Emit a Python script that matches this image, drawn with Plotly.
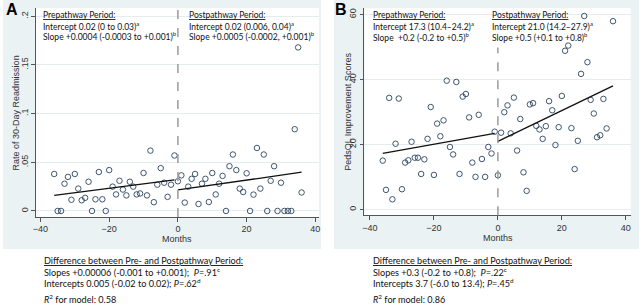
import numpy as np
import plotly.graph_objects as go

# ---------------- data ----------------
a_pre_months = [-36, -35, -34, -33, -32, -31, -30, -29, -28, -27, -26, -25, -24, -23, -22, -21, -20, -19,
                -18, -17, -16, -15, -14, -13, -12, -11, -10, -9, -8, -7, -6, -5, -4, -3, -2, -1]
a_pre_rate = [0.038, 0, 0, 0.028, 0.035, 0.0115, 0.038, 0.023, 0.011, 0.0135, 0.030, 0, 0.012, 0.040,
              0.012, 0, 0.042, 0.025, 0.017, 0.031, 0.022, 0.016, 0.030, 0.025, 0.017, 0.018, 0.039,
              0.016, 0.062, 0.009, 0.027, 0.044, 0.029, 0.0145, 0.027, 0.057]
a_post_months = [0, 1, 2, 3, 4, 5, 6, 7, 8, 9, 10, 11, 12, 13, 14, 15, 16, 17, 18, 19, 20, 21, 22, 23,
                 24, 25, 26, 27, 28, 29, 30, 31, 32, 33, 34, 35, 36]
a_post_rate = [0.0305, 0.0366, 0.0086, 0.025, 0.033, 0.038, 0.0072, 0.028, 0.033, 0.0092, 0.039, 0.017,
               0.028, 0.036, 0, 0.046, 0.058, 0.042, 0.023, 0.0195, 0.0387, 0, 0.0168, 0.0647, 0.023,
               0.058, 0, 0.031, 0.046, 0, 0.029, 0, 0, 0, 0.084, 0.168, 0.019]

b_pre_months = a_pre_months
b_pre_score = [15.1, 6.1, 34.4, 3.2, 20.3, 34.2, 6.3, 14.5, 15.2, 20.9, 16.0, 16.0, 11.0, 15.5, 21.8,
               31.6, 10.7, 26.5, 22.6, 27.5, 39.7, 19.3, 17.0, 39.3, 11.0, 34.8, 35.6, 28.4, 14.5, 10.1,
               29.2, 15.6, 10.1, 19.3, 17.3, 24.0]
b_post_months = [0, 1, 2, 3, 4, 5, 6, 7, 8, 9, 10, 11, 12, 13, 14, 15, 16, 17, 18, 19, 20, 21, 22, 23,
                 24, 25, 26, 27, 28, 29, 30, 31, 32, 33, 34, 36]
b_post_score = [10.6, 23.7, 30.0, 32.1, 23.5, 34.5, 18.2, 27.9, 11.5, 5.8, 32.4, 32.8, 25.8, 24.7, 21.8,
                25.7, 33.4, 30.6, 19.9, 25.4, 35.0, 48.9, 50.5, 25.1, 12.5, 21.2, 41.8, 59.6, 45.4, 33.8,
                29.6, 22.3, 22.9, 34.1, 25.0, 58.0]

pathway_start = 0
x_ticks = [-40, -20, 0, 20, 40]
a_y_ticks = [0, 0.05, 0.1, 0.15, 0.2]
a_y_ticktext = ["0", ".05", ".1", ".15", ".2"]
b_y_ticks = [0, 20, 40, 60]
b_y_ticktext = ["0", "20", "40", "60"]

x_title = "Months"
a_y_title = "Rate of 30-Day Readmission"
b_y_title = "PedsQL Improvement Scores"

a_pre_text = ["Prepathway Period:", "Intercept 0.02 (0 to 0.03)<sup>a</sup>",
              "Slope +0.0004 (-0.0003 to +0.001)<sup>b</sup>"]
a_post_text = ["Postpathway Period:", "Intercept 0.02 (0.006, 0.04)<sup>a</sup>",
               "Slope +0.0005 (-0.0002, +0.001)<sup>b</sup>"]
b_pre_text = ["Prepathway Period:", "Intercept 17.3 (10.4–24.2)<sup>a</sup>",
              "Slope&nbsp; +0.2 (-0.2 to +0.5)<sup>b</sup>"]
b_post_text = ["Postpathway Period:", "Intercept 21.0 (14.2–27.9)<sup>a</sup>",
               "Slope +0.5 (+0.1 to +0.8)<sup>b</sup>"]
a_diff_text = ["Difference between Pre- and Postpathway Period:",
               "Slopes +0.00006 (-0.001 to +0.001);&nbsp; <i>P</i>=.91<sup>c</sup>",
               "Intercepts 0.005 (-0.02 to 0.02); <i>P</i>=.62<sup>d</sup>",
               "<i>R</i><sup>2</sup> for model: 0.58"]
b_diff_text = ["Difference between Pre- and Postpathway Period:",
               "Slopes +0.3 (-0.2 to +0.8);&nbsp; <i>P</i>=.22<sup>c</sup>",
               "Intercepts 3.7 (-6.0 to 13.4); <i>P</i>=.45<sup>d</sup>",
               "<i>R</i><sup>2</sup> for model: 0.86"]

# ---------------- helpers ----------------
W, H = 640, 304
def px(x):
    return x / W
def py(y):
    return 1 - y / H

MARK = "#2a4560"
TXT_FONT = "Lato"
AX_FONT = "Liberation Sans"

def fit_line(xs, ys):
    k, b = np.polyfit(xs, ys, 1)
    xx = np.array([min(xs), max(xs)], dtype=float)
    return xx, k * xx + b

fig = go.Figure()

for xs, ys, ax, ay in [(a_pre_months, a_pre_rate, "x", "y"), (a_post_months, a_post_rate, "x", "y"),
                       (b_pre_months, b_pre_score, "x2", "y2"), (b_post_months, b_post_score, "x2", "y2")]:
    fig.add_trace(go.Scatter(x=xs, y=ys, mode="markers", xaxis=ax, yaxis=ay, showlegend=False,
                             marker=dict(symbol="circle-open", size=5.5, color=MARK, line=dict(width=0.9))))
    fx, fy = fit_line(xs, ys)
    fig.add_trace(go.Scatter(x=fx, y=fy, mode="lines", xaxis=ax, yaxis=ay, showlegend=False,
                             line=dict(color="#111111", width=1.3)))

BG = "#EAF2F3"
shapes = [
    dict(type="rect", xref="paper", yref="paper", x0=px(0), x1=px(320), y0=py(249), y1=py(0),
         fillcolor=BG, line=dict(width=0), layer="below"),
    dict(type="rect", xref="paper", yref="paper", x0=px(333), x1=px(640), y0=py(249), y1=py(0),
         fillcolor=BG, line=dict(width=0), layer="below"),
    dict(type="rect", xref="paper", yref="paper", x0=px(33), x1=px(318), y0=py(217), y1=py(8),
         fillcolor="white", line=dict(width=0), layer="below"),
    dict(type="rect", xref="paper", yref="paper", x0=px(363.7), x1=px(631.7), y0=py(215.3), y1=py(8),
         fillcolor="white", line=dict(width=0), layer="below"),
    dict(type="line", xref="x", yref="y domain", x0=pathway_start, x1=pathway_start, y0=0, y1=1,
         line=dict(color="#9a9a9a", width=1.5, dash="dash")),
    dict(type="line", xref="x2", yref="y2 domain", x0=pathway_start, x1=pathway_start, y0=0, y1=0.81,
         line=dict(color="#9a9a9a", width=1.5, dash="dash")),
]

axis_common = dict(showline=True, linecolor="#555555", linewidth=1, ticks="outside", ticklen=3.5,
                   tickcolor="#555555", tickfont=dict(family=AX_FONT, size=9, color="#333333"),
                   zeroline=False, mirror=False)
title_font = dict(family=AX_FONT, size=9, color="#333333")

fig.update_layout(
    width=W, height=H, margin=dict(l=0, r=0, t=0, b=0),
    paper_bgcolor="white", plot_bgcolor="rgba(0,0,0,0)",
    shapes=shapes,
    xaxis=dict(domain=[px(33), px(318)], range=[-41.36, 41.07], tickvals=x_ticks, showgrid=False,
               anchor="y", **axis_common),
    yaxis=dict(domain=[py(217), py(8)], range=[-0.0062, 0.2085], tickvals=a_y_ticks, ticktext=a_y_ticktext,
               tickangle=-90, showgrid=True, gridcolor="#E4ECEE", gridwidth=1, anchor="x", **axis_common),
    xaxis2=dict(domain=[px(363.7), px(631.7)], range=[-41.74, 41.55], tickvals=x_ticks, showgrid=False,
                anchor="y2", **axis_common),
    yaxis2=dict(domain=[py(215.3), py(8)], range=[-1.72, 62.06], tickvals=b_y_ticks, ticktext=b_y_ticktext,
                tickangle=-90, showgrid=True, gridcolor="#E4ECEE", gridwidth=1, anchor="x2", **axis_common),
)

annotations = []
def add_lines(lines, x, ys, size, underline_first=True):
    for i, (t, y) in enumerate(zip(lines, ys)):
        if i == 0 and underline_first:
            t = '<span style="text-decoration:underline">' + t + '</span>'
        annotations.append(dict(text=t, xref="paper", yref="paper", x=px(x), y=py(y), xanchor="left",
                                yanchor="middle", showarrow=False,
                                font=dict(family=TXT_FONT, size=size, color="#111111")))

add_lines(a_pre_text, 38, [15, 25.7, 36], 8.5)
add_lines(a_post_text, 185.5, [15, 25.7, 36], 8.5)
add_lines(b_pre_text, 370.5, [15, 25.7, 37], 8.5)
add_lines(b_post_text, 490.5, [15, 25.7, 37], 8.5)
add_lines(a_diff_text, 39, [260, 271.5, 282.5, 298.5], 9.1)
add_lines(b_diff_text, 370, [260, 271.5, 282.5, 298.5], 9.1)

# axis titles
for t, x, y, ang in [(x_title, 175.5, 238.5, 0), (x_title, 497.7, 237.5, 0),
                     (a_y_title, 13, 112.5, -90), (b_y_title, 347, 112, -90)]:
    annotations.append(dict(text=t, xref="paper", yref="paper", x=px(x), y=py(y), xanchor="center",
                            yanchor="middle", showarrow=False, textangle=ang,
                            font=title_font))

annotations.append(dict(text="<b>A</b>", xref="paper", yref="paper", x=px(1.5), y=py(9.5), xanchor="left",
                        yanchor="middle", showarrow=False,
                        font=dict(family=AX_FONT, size=16, color="#000000")))
annotations.append(dict(text="<b>B</b>", xref="paper", yref="paper", x=px(332.5), y=py(9.5), xanchor="left",
                        yanchor="middle", showarrow=False,
                        font=dict(family=AX_FONT, size=16, color="#000000")))
fig.update_layout(annotations=annotations)

fig.write_html("out.html", config={"displayModeBar": False},
               post_script="document.body.style.margin='0px';document.body.style.padding='0px';")
